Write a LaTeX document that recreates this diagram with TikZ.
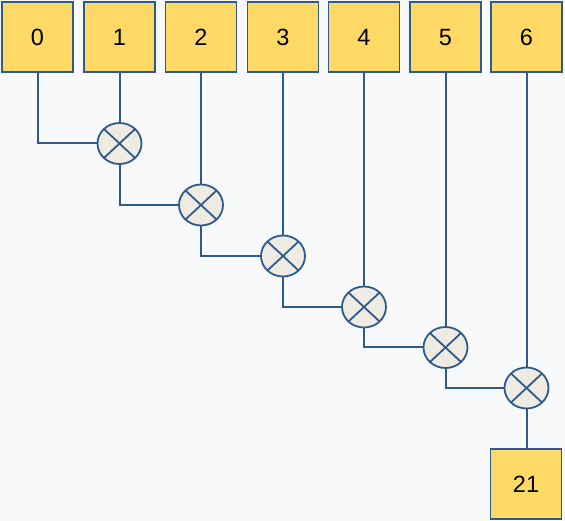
\documentclass[tikz,border=0pt]{standalone}
\usepackage{fontspec}
\setmainfont{Liberation Sans}
\usetikzlibrary{shapes.geometric}
\definecolor{bgc}{HTML}{F8F9FA}
\definecolor{boxfill}{HTML}{FFD966}
\definecolor{edge}{HTML}{2F5A8C}
\definecolor{mulfill}{HTML}{EEECE2}
\tikzset{
  valbox/.style={draw=edge, fill=boxfill, line width=1.6pt, minimum width=71pt, minimum height=70pt, inner sep=0pt, text height=17pt, text depth=0pt, font=\fontsize{23.5}{28}\selectfont},
  mul/.style={ellipse, draw=edge, fill=mulfill, line width=1.8pt, minimum width=44pt, minimum height=41pt, inner sep=0pt,
    path picture={\draw[edge, line width=1.8pt] (path picture bounding box.north east) -- (path picture bounding box.south west)
      (path picture bounding box.north west) -- (path picture bounding box.south east);}},
  wire/.style={draw=edge, line width=2pt}
}
\begin{document}
\begin{tikzpicture}[x=1pt, y=-1pt]
\fill[bgc] (0,0) rectangle (565,521);
\useasboundingbox (0,0) rectangle (565,521);
\node[valbox] (b0) at (37.5,37) {0};
\node[valbox] (b1) at (119.5,37) {1};
\node[valbox] (b2) at (201,37) {2};
\node[valbox] (b3) at (283,37) {3};
\node[valbox] (b4) at (364,37) {4};
\node[valbox] (b5) at (445.5,37) {5};
\node[valbox] (b6) at (526.5,37) {6};
\node[valbox] (b21) at (526,484) {21};
\node[mul] (c1) at (119.5,143.5) {};
\node[mul] (c2) at (201,205) {};
\node[mul] (c3) at (283,256) {};
\node[mul] (c4) at (364,307) {};
\node[mul] (c5) at (445.5,347.5) {};
\node[mul] (c6) at (526.5,388) {};
\path[wire] (b0.south) |- (c1.west);
\path[wire] (b1.south) -- (c1.north);
\path[wire] (c1.south) |- (c2.west);
\path[wire] (b2.south) -- (c2.north);
\path[wire] (c2.south) |- (c3.west);
\path[wire] (b3.south) -- (c3.north);
\path[wire] (c3.south) |- (c4.west);
\path[wire] (b4.south) -- (c4.north);
\path[wire] (c4.south) |- (c5.west);
\path[wire] (b5.south) -- (c5.north);
\path[wire] (c5.south) |- (c6.west);
\path[wire] (b6.south) -- (c6.north);
\path[wire] (c6.south) -- (c6.south |- b21.north);
\end{tikzpicture}
\end{document}
